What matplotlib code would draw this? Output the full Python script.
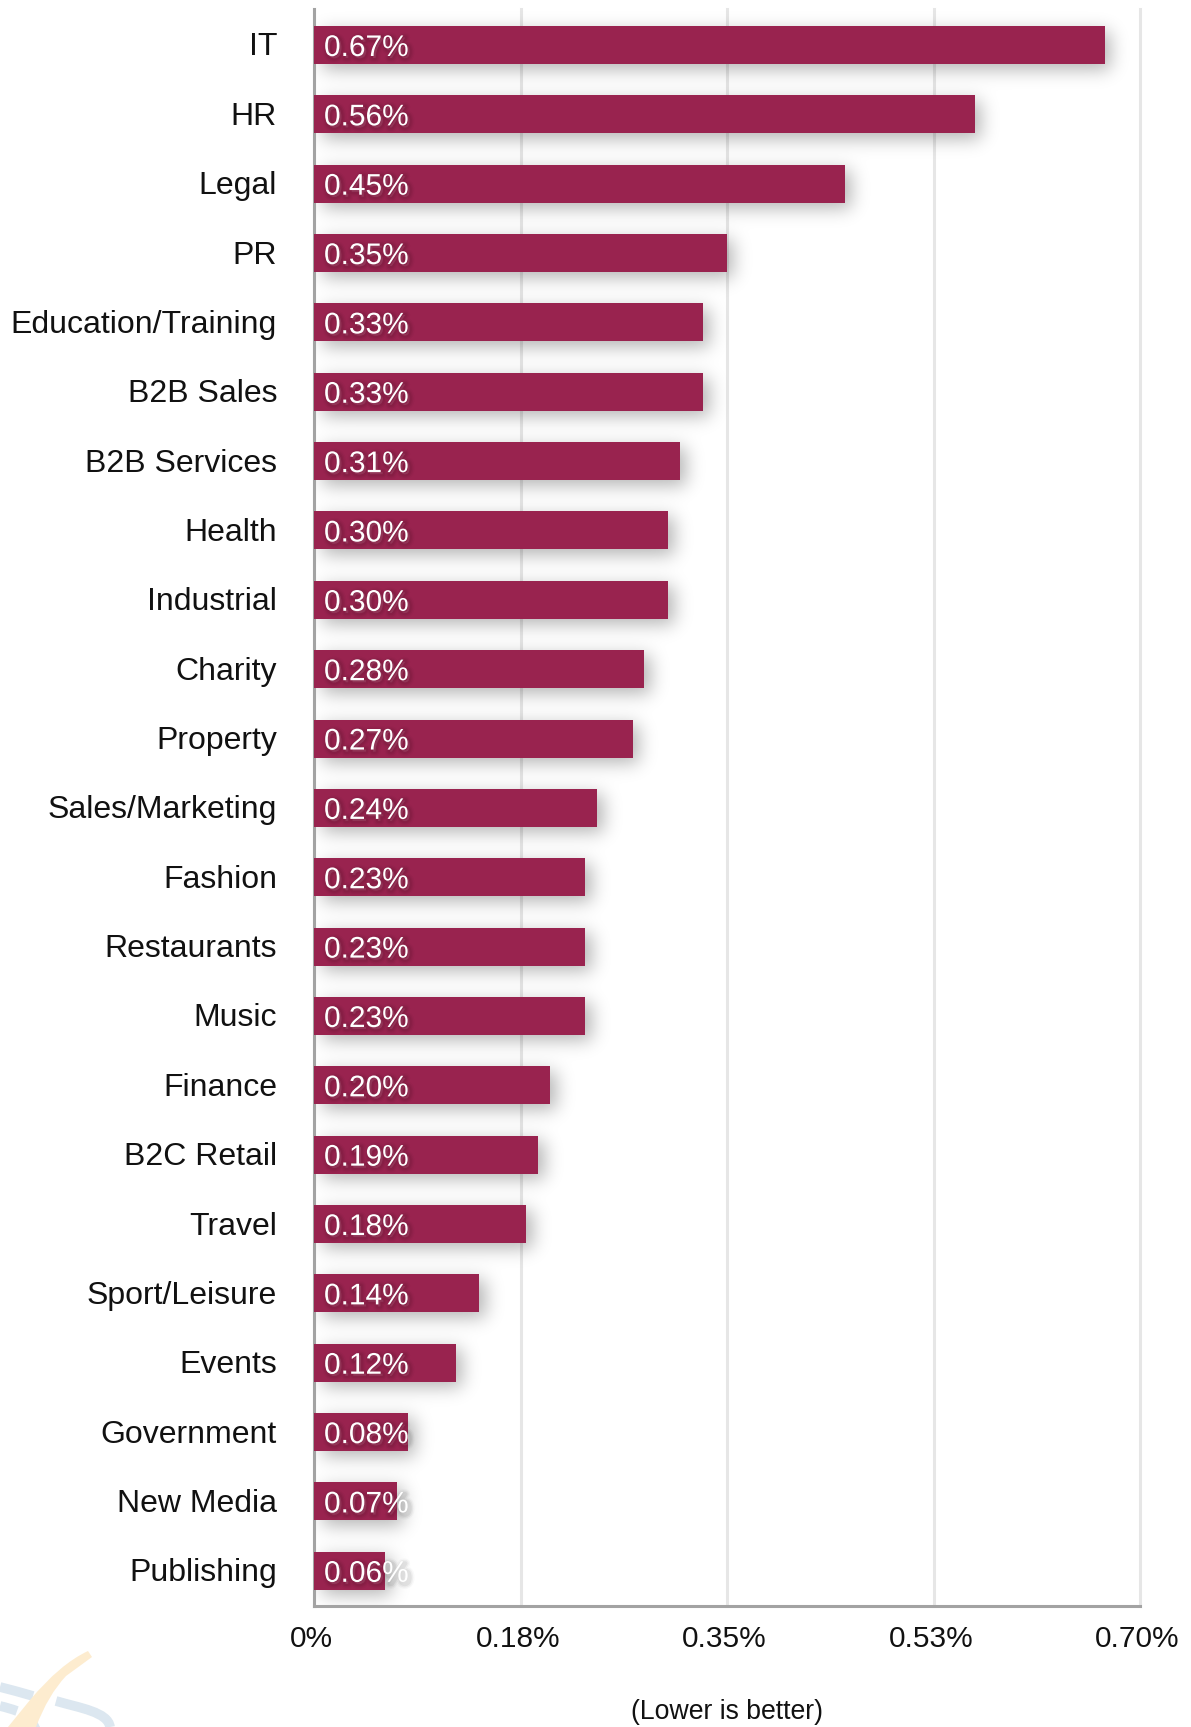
import math
import numpy as np
import matplotlib
matplotlib.use('Agg')
from matplotlib import pyplot as plt
from matplotlib import patheffects as pe
from matplotlib import transforms
from matplotlib.path import Path
from matplotlib.patches import PathPatch

sectors = ['IT', 'HR', 'Legal', 'PR', 'Education/Training', 'B2B Sales', 'B2B Services',
           'Health', 'Industrial', 'Charity', 'Property', 'Sales/Marketing', 'Fashion',
           'Restaurants', 'Music', 'Finance', 'B2C Retail', 'Travel', 'Sport/Leisure',
           'Events', 'Government', 'New Media', 'Publishing']
rates = [0.67, 0.56, 0.45, 0.35, 0.33, 0.33, 0.31, 0.30, 0.30, 0.28, 0.27, 0.24,
         0.23, 0.23, 0.23, 0.20, 0.19, 0.18, 0.14, 0.12, 0.08, 0.07, 0.06]
tick_values = [0, 0.175, 0.35, 0.525, 0.70]
tick_labels = ['0%', '0.18%', '0.35%', '0.53%', '0.70%']

W, H = 1191, 1727
BAR_COLOR = '#99234f'

plt.rcParams['font.family'] = ['Liberation Sans', 'DejaVu Sans']


def px_box(left, top, right, bottom):
    return [left / W, 1 - bottom / H, (right - left) / W, (bottom - top) / H]


def soft_edge(grid, lo, hi, sigma):
    # gaussian blurred box, one dimension
    erf = np.vectorize(math.erf)
    return 0.5 * (erf((grid - lo) / (sigma * 2 ** 0.5)) - erf((grid - hi) / (sigma * 2 ** 0.5)))


def draw_shadows(ax, values, bar_height):
    # blurred drop shadow under every bar, worked out in data units
    xlim, ylim = ax.get_xlim(), ax.get_ylim()
    box = ax.get_window_extent()
    xs = np.linspace(xlim[0], xlim[1], int(box.width))
    ys = np.linspace(ylim[1], ylim[0], int(box.height))
    px_x = (xlim[1] - xlim[0]) / box.width
    px_y = abs(ylim[1] - ylim[0]) / box.height
    alpha = np.zeros((len(ys), len(xs)))
    for i, v in enumerate(values):
        across = soft_edge(xs, 8 * px_x, v + 6 * px_x, 9 * px_x)
        down = soft_edge(ys, i - bar_height / 2 + 6 * px_y, i + bar_height / 2 + 6 * px_y, 9 * px_y)
        alpha += np.outer(down, across)
    rgba = np.zeros(alpha.shape + (4,))
    rgba[..., 3] = np.clip(alpha, 0, 1) * 0.30
    ax.imshow(rgba, extent=(xlim[0], xlim[1], ylim[0], ylim[1]), origin='upper',
              aspect='auto', zorder=1.5, interpolation='bilinear')
    ax.set_xlim(xlim)
    ax.set_ylim(ylim)


def draw_logo(fig):
    # faded swoosh in the bottom corner, in pixel coordinates
    def to_fig(points):
        return [(x / W, 1 - y / H) for x, y in points]

    blue = '#dce7f0'
    bands = [[(0, 1687), (16, 1691), (33, 1696)],
             [(0, 1706), (9, 1708), (17, 1711)]]
    for pts in bands:
        path = Path(to_fig(pts), [Path.MOVETO, Path.CURVE3, Path.CURVE3])
        fig.add_artist(PathPatch(path, fc='none', ec=blue, lw=7, capstyle='butt',
                                 transform=fig.transFigure))
    arc = [(56, 1701), (80, 1708), (108, 1712), (110, 1727)]
    path = Path(to_fig(arc), [Path.MOVETO, Path.CURVE4, Path.CURVE4, Path.CURVE4])
    fig.add_artist(PathPatch(path, fc='none', ec=blue, lw=7, capstyle='butt',
                             transform=fig.transFigure))
    stub = [(33, 1727), (37, 1721), (40, 1727), (33, 1727)]
    fig.add_artist(PathPatch(Path(to_fig(stub), closed=True), fc=blue, ec='none',
                             transform=fig.transFigure))
    swoosh = [(88, 1651), (60, 1664), (30, 1700), (8, 1727), (36, 1727),
              (48, 1695), (66, 1676), (92, 1657), (88, 1651)]
    codes = [Path.MOVETO, Path.CURVE3, Path.CURVE3, Path.LINETO, Path.LINETO,
             Path.CURVE3, Path.CURVE3, Path.LINETO, Path.CLOSEPOLY]
    fig.add_artist(PathPatch(Path(to_fig(swoosh), codes), fc='#fdeccf', ec='none',
                             transform=fig.transFigure))


def make_bar():
    fig = plt.figure(figsize=(W / 100, H / 100), dpi=100)
    draw_logo(fig)
    ax = fig.add_axes(px_box(314, 9, 1140, 1605.5))
    ax.set_facecolor('none')

    y = np.arange(len(sectors))
    bar_height = 0.548
    ax.set_xlim(0, 0.70)
    ax.set_ylim(22.5, -0.519)

    ax.grid(axis='x', color='#e6e6e6', linewidth=2.2, zorder=1)
    ax.set_axisbelow(True)
    for line in ax.get_xgridlines():
        line.set_clip_on(False)
    draw_shadows(ax, rates, bar_height)
    ax.barh(y, rates, height=bar_height, color=BAR_COLOR, zorder=2)

    for s in ['top', 'right']:
        ax.spines[s].set_visible(False)
    for s in ['left', 'bottom']:
        ax.spines[s].set_color('#a3a3a3')
        ax.spines[s].set_linewidth(2.2)
        ax.spines[s].set_zorder(1.8)

    ax.set_yticks(y)
    ax.set_yticklabels(sectors, fontsize=23, color='#111111')
    ax.set_xticks(tick_values)
    ax.set_xticklabels(tick_labels, fontsize=21.5, color='#111111')
    ax.tick_params(axis='y', length=0, pad=27)
    ax.tick_params(axis='x', length=0, pad=14)
    shift_x = transforms.ScaledTranslation(-2.5 / 100, 0, fig.dpi_scale_trans)
    for label in ax.get_xticklabels():
        label.set_transform(label.get_transform() + shift_x)
    shift_y = transforms.ScaledTranslation(0.5 / 100, 1 / 100, fig.dpi_scale_trans)
    for label in ax.get_yticklabels():
        label.set_transform(label.get_transform() + shift_y)

    ax.set_xlabel('(Lower is better)', fontsize=19.2, color='#111111', labelpad=33.5)

    # value labels, white with a soft shadow behind them
    text_shadow = [pe.Stroke(linewidth=w, foreground='black', alpha=a, offset=(1.5, -1.5))
                   for w, a in [(7, 0.025), (5, 0.04), (3, 0.05)]] + [pe.Normal()]
    offset = transforms.ScaledTranslation(10 / 100, 0, fig.dpi_scale_trans)
    for i, v in enumerate(rates):
        ax.text(0, i, '%.2f%%' % v, color='white', fontsize=21.5, va='center_baseline',
                ha='left', zorder=3, transform=ax.transData + offset,
                path_effects=text_shadow, clip_on=False)

    fig.savefig('out.png', dpi=100, facecolor='white')


if __name__ == '__main__':
    make_bar()
